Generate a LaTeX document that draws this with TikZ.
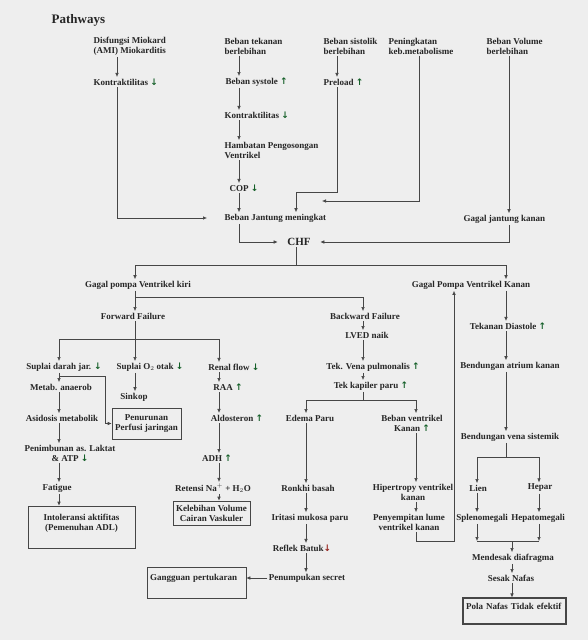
\documentclass[tikz,border=0pt]{standalone}
\usepackage{fontspec}
\setmainfont{Liberation Serif}
\newfontfamily\panahfont{DejaVu Sans}
\usetikzlibrary{arrows.meta}
\definecolor{latar}{RGB}{238,238,238}
\definecolor{garis}{RGB}{70,70,70}
\definecolor{hijau}{RGB}{20,95,40}
\definecolor{merah}{RGB}{150,35,30}
\newcommand{\naik}{{\panahfont\textcolor{hijau}{↑}}}
\newcommand{\turun}{{\panahfont\textcolor{hijau}{↓}}}

\begin{document}
\begin{tikzpicture}[x=1pt,y=-1pt,
  every node/.style={font=\bfseries\fontsize{9}{10}\selectfont, inner sep=1.5pt, text=black!85, align=center},
  kiri/.style={anchor=west, align=left},
  kotak/.style={draw=garis, line width=0.6pt, inner sep=3pt},
  panah/.style={draw=garis, line width=0.6pt, -{Latex[length=4pt,width=3.5pt]}},
  garisan/.style={draw=garis, line width=0.6pt}]
\fill[latar] (0,0) rectangle (588,640);
\useasboundingbox (0,0) rectangle (588,640);

\coordinate (kolA) at (117,0);
\coordinate (kolB) at (239,0);
\coordinate (kolC) at (337,0);
\coordinate (kolD) at (419,0);
\coordinate (kolE) at (509,0);
\coordinate (jPre) at (296,192);
\coordinate (jMet) at (322,201);
\coordinate (cabKiri) at (135,265);
\coordinate (cabKanan) at (506,265);
\coordinate (jBack) at (363,297);
\coordinate (fwdA) at (59,339);
\coordinate (fwdB) at (219,339);
\coordinate (jPerfusi) at (105,376);
\coordinate (bwA) at (306,400);
\coordinate (bwB) at (416,400);
\coordinate (jBalik) at (454,541);
\coordinate (rkA) at (477,457);
\coordinate (rkB) at (539,457);
\coordinate (rkC) at (477,541);
\coordinate (rkD) at (539,541);
\coordinate (jMd) at (512,541);

\node[kiri, font=\bfseries\fontsize{13}{15}\selectfont] (judul) at (50,20) {Pathways};

\node[kiri] (disf) at (92,46) {Disfungsi Miokard\\(AMI) Miokarditis};
\node[kiri] (kontra1) at (92,82) {Kontraktilitas \turun};
\node[kiri] (btekanan) at (223,46) {Beban tekanan\\berlebihan};
\node[kiri] (bsystole) at (224,82) {Beban systole \naik};
\node[kiri] (kontra2) at (223,115) {Kontraktilitas \turun};
\node[kiri] (hambatan) at (223,150) {Hambatan Pengosongan\\Ventrikel};
\node[kiri] (cop) at (228,188) {COP \turun};
\node[kiri] (bjantung) at (223,218) {Beban Jantung meningkat};
\node[kiri] (bsistolik) at (322,46) {Beban sistolik\\berlebihan};
\node[kiri] (preload) at (322,82) {Preload \naik};
\node[kiri] (metabol) at (387,46) {Peningkatan\\keb.metabolisme};
\node[kiri] (bvolume) at (485,46) {Beban Volume\\berlebihan};
\node[kiri] (gjkanan) at (462,219) {Gagal jantung kanan};
\node[font=\bfseries\fontsize{11}{13}\selectfont] (chf) at (299,242) {CHF};

\node (gpkiri) at (138,285) {Gagal pompa Ventrikel kiri};
\node (forward) at (133,316) {Forward Failure};
\node (suplaiDarah) at (64,367) {Suplai darah jar. \turun};
\node (suplaiO2) at (150,367) {Suplai O$_2$ otak \turun};
\node (renal) at (234,367) {Renal flow \turun};
\node (metab) at (61,387) {Metab. anaerob};
\node (sinkop) at (134,397) {Sinkop};
\node[kotak, minimum width=69pt, minimum height=31pt] (perfusi) at (146.5,423.5) {Penurunan\\Perfusi jaringan};
\node (asidosis) at (62,418) {Asidosis metabolik};
\node (laktat) at (70,453) {Penimbunan as. Laktat\\\& ATP \turun};
\node (fatigue) at (57,488) {Fatigue};
\node[kotak, minimum width=107pt, minimum height=42pt] (intoleransi) at (81.5,527) {Intoleransi aktifitas\\(Pemenuhan ADL)\\\mbox{}};
\node (raa) at (228,387) {RAA \naik};
\node (aldo) at (237,418) {Aldosteron \naik};
\node (adh) at (217,458) {ADH \naik};
\node (retensi) at (213,488) {Retensi Na$^{+}$ + H$_2$O};
\node[kotak, minimum width=77pt, minimum height=24pt, inner sep=1.5pt] (kelebihan) at (211.5,513) {Kelebihan Volume\\Cairan Vaskuler};

\node (backward) at (365,316) {Backward Failure};
\node (lved) at (367,335) {LVED naik};
\node (tvena) at (373,367) {Tek. Vena pulmonalis \naik};
\node (tkapiler) at (371,386) {Tek kapiler paru \naik};
\node (edema) at (310,418) {Edema Paru};
\node (bvkanan) at (412,423) {Beban ventrikel\\Kanan \naik};
\node (ronkhi) at (308,488) {Ronkhi basah};
\node (iritasi) at (310,518) {Iritasi mukosa paru};
\node (reflek) at (302,548) {Reflek Batuk{\panahfont\textcolor{merah}{↓}}};
\node (secret) at (307,578) {Penumpukan secret};
\node[kotak, text width=93pt, align=left, minimum height=31pt] (gangguan) at (196.5,582.5) {Gangguan pertukaran\\\mbox{}};
\node (hipertropi) at (413,492) {Hipertropy ventrikel\\kanan};
\node (penyempitan) at (409,522) {Penyempitan lume\\ventrikel kanan};

\node (gpkanan) at (471,285) {Gagal Pompa Ventrikel Kanan};
\node (diastole) at (508,326) {Tekanan Diastole \naik};
\node (atrium) at (510,366) {Bendungan atrium kanan};
\node (vena) at (510,437) {Bendungan vena sistemik};
\node (lien) at (478,488) {Lien};
\node (hepar) at (540,488) {Hepar};
\node (spleno) at (482,518) {Splenomegali};
\node (hepato) at (538,518) {Hepatomegali};
\node (mendesak) at (513,558) {Mendesak diafragma};
\node (sesak) at (511,578) {Sesak Nafas};
\node[kotak, line width=1.1pt, text width=97pt, align=left, minimum height=26pt] (pola) at (514.5,611) {Pola Nafas Tidak efektif\\\mbox{}};

\draw[panah] (disf.south -| kolA) -- (kontra1.north -| kolA);
\draw[panah] (kontra1.south -| kolA) |- ([xshift=-16pt]bjantung.west);
\draw[panah] (btekanan.south -| kolB) -- (bsystole.north -| kolB);
\draw[panah] (bsystole.south -| kolB) -- (kontra2.north -| kolB);
\draw[panah] (kontra2.south -| kolB) -- (hambatan.north -| kolB);
\draw[panah] (hambatan.south -| kolB) -- (cop.north -| kolB);
\draw[panah] (cop.south -| kolB) -- (bjantung.north -| kolB);
\draw[panah] (bsistolik.south -| kolC) -- (preload.north -| kolC);
\draw[panah] (preload.south -| kolC) |- (jPre) -- (bjantung.north -| jPre);
\draw[panah] (metabol.south -| kolD) |- (jMet);
\draw[panah] (bvolume.south -| kolE) -- (gjkanan.north -| kolE);
\draw[panah] (bjantung.south -| kolB) |- ([xshift=-8pt]chf.west);
\draw[panah] (gjkanan.south -| kolE) |- ([xshift=8pt]chf.east);
\draw[garisan] (chf.south -| jPre) -- (cabKiri -| jPre);
\draw[garisan] (cabKiri) -- (cabKanan);
\draw[panah] (cabKiri) -- (gpkiri.north -| cabKiri);
\draw[panah] (cabKanan) -- (gpkanan.north -| cabKanan);

\draw[panah] (gpkiri.south -| cabKiri) -- (forward.north -| cabKiri);
\draw[panah] (gpkiri.south -| cabKiri) |- (jBack) -- (backward.north -| jBack);
\draw[garisan] (forward.south -| cabKiri) -- (fwdA -| cabKiri);
\draw[garisan] (fwdA) -- (fwdB);
\draw[panah] (fwdA) -- (suplaiDarah.north -| fwdA);
\draw[panah] (fwdA -| cabKiri) -- (suplaiO2.north -| cabKiri);
\draw[panah] (fwdB) -- (renal.north -| fwdB);
\draw[panah] (suplaiDarah.south -| fwdA) -- (metab.north -| fwdA);
\draw[panah] (metab.south -| fwdA) -- (asidosis.north -| fwdA);
\draw[panah] (asidosis.south -| fwdA) -- (laktat.north -| fwdA);
\draw[panah] (laktat.south -| fwdA) -- (fatigue.north -| fwdA);
\draw[panah] (fatigue.south -| fwdA) -- (intoleransi.north -| fwdA);
\draw[panah] (fwdA |- jPerfusi) -- (jPerfusi) |- (perfusi.west);
\draw[panah] (suplaiO2.south -| cabKiri) -- (sinkop.north -| cabKiri);
\draw[panah] (renal.south -| fwdB) -- (raa.north -| fwdB);
\draw[panah] (raa.south -| fwdB) -- (aldo.north -| fwdB);
\draw[panah] (aldo.south -| fwdB) -- (adh.north -| fwdB);
\draw[panah] (adh.south -| fwdB) -- (retensi.north -| fwdB);
\draw[panah] (retensi.south -| fwdB) -- (kelebihan.north -| fwdB);

\draw[panah] (backward.south -| jBack) -- (lved.north -| jBack);
\draw[panah] (lved.south -| jBack) -- (tvena.north -| jBack);
\draw[panah] (tvena.south -| jBack) -- (tkapiler.north -| jBack);
\draw[garisan] (tkapiler.south -| jBack) -- (bwA -| jBack);
\draw[garisan] (bwA) -- (bwB);
\draw[panah] (bwA) -- (edema.north -| bwA);
\draw[panah] (bwB) -- (bvkanan.north -| bwB);
\draw[panah] (edema.south -| bwA) -- (ronkhi.north -| bwA);
\draw[panah] (ronkhi.south -| bwA) -- (iritasi.north -| bwA);
\draw[panah] (iritasi.south -| bwA) -- (reflek.north -| bwA);
\draw[panah] (reflek.south -| bwA) -- (secret.north -| bwA);
\draw[panah] (secret.west) -- (secret.west -| gangguan.east);
\draw[panah] (bvkanan.south -| bwB) -- (hipertropi.north -| bwB);
\draw[panah] (hipertropi.south -| bwB) -- (penyempitan.north -| bwB);
\draw[panah] (penyempitan.south -| bwB) |- (jBalik) -- (gpkanan.south -| jBalik);

\draw[panah] (gpkanan.south -| cabKanan) -- (diastole.north -| cabKanan);
\draw[panah] (diastole.south -| cabKanan) -- (atrium.north -| cabKanan);
\draw[panah] (atrium.south -| cabKanan) -- (vena.north -| cabKanan);
\draw[garisan] (vena.south -| cabKanan) -- (rkA -| cabKanan);
\draw[garisan] (rkA) -- (rkB);
\draw[panah] (rkA) -- (lien.north -| rkA);
\draw[panah] (rkB) -- (hepar.north -| rkB);
\draw[panah] (lien.south -| rkA) -- (spleno.north -| rkA);
\draw[panah] (hepar.south -| rkB) -- (hepato.north -| rkB);
\draw[panah] (spleno.south -| rkA) -- (rkC);
\draw[panah] (hepato.south -| rkB) -- (rkD);
\draw[garisan] (rkC) -- (rkD);
\draw[panah] (jMd) -- (mendesak.north -| jMd);
\draw[panah] (mendesak.south -| jMd) -- (sesak.north -| jMd);
\draw[panah] (sesak.south -| jMd) -- (pola.north -| jMd);
\end{tikzpicture}
\end{document}
